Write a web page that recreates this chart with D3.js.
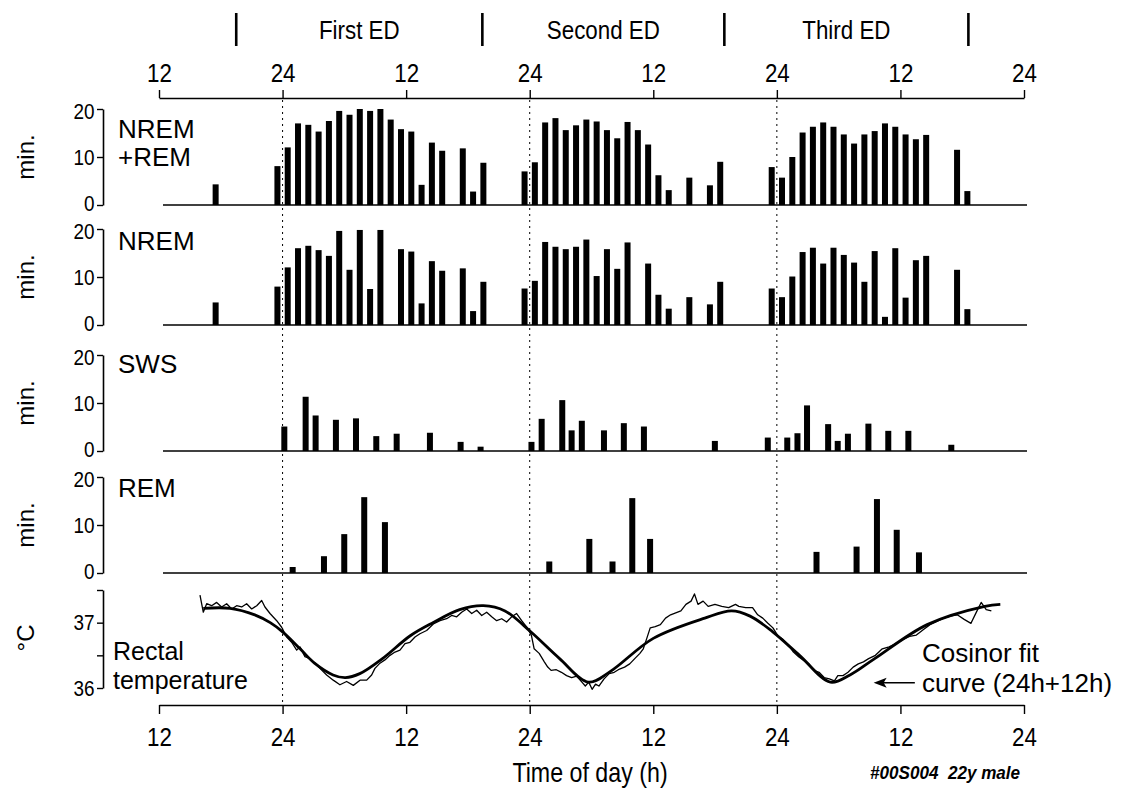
<!DOCTYPE html>
<html><head><meta charset="utf-8">
<script src="https://cdn.jsdelivr.net/npm/d3@7"></script>
<style>
body{margin:0;background:#fff;}
svg text{font-family:"Liberation Sans",Arial,sans-serif;fill:#000;}
</style></head><body>
<svg id="c" width="1139" height="790"></svg>
<script>
// ---------- DATA ----------
const axisHours = [0,12,24,36,48,60,72,84];           // hours since 12:00 of day 0
const axisLabels = ["12","24","12","24","12","24","12","24"];
const edNames = ["First ED","Second ED","Third ED"];
const edMarkers = [7.5,31.4,54.9,78.6];               // hours

const nremRemHours = [5,11,12,13,14,15,16,17,18,19,20,21,22,23,24,25,26,27,29,30,31,35,36,37,38,39,40,41,42,43,44,45,46,47,48,49,51,53,54,59,60,61,62,63,64,65,66,67,68,69,70,71,72,73,74,77,78];
const nremRemMin = [4.3,8.1,12.0,17.0,16.7,15.3,17.5,19.6,18.8,20.0,19.6,20.0,17.8,15.8,15.3,4.2,13.0,11.3,11.8,2.8,8.8,7.0,8.9,17.2,18.1,15.6,16.6,17.8,17.4,15.6,13.9,17.3,15.6,12.6,6.2,3.1,5.7,4.1,9.0,7.9,5.7,10.0,15.1,16.3,17.2,16.3,14.7,12.8,14.7,15.4,17.0,16.3,14.7,13.7,14.6,11.5,2.9];

const nremHours = [5,11,12,13,14,15,16,17,18,19,20,21,23,24,25,26,27,29,30,31,35,36,37,38,39,40,41,42,43,44,45,47,48,49,51,53,54,59,60,61,62,63,64,65,66,67,68,69,70,71,72,73,74,77,78];
const nremMin = [4.7,8.0,12.0,16.0,16.5,15.6,14.4,19.6,11.5,19.8,7.5,19.8,15.8,15.3,4.5,13.3,11.3,11.8,2.9,9.0,7.6,9.2,17.3,16.3,15.8,16.3,17.8,10.2,15.8,11.7,17.2,12.8,6.3,3.4,5.8,4.3,9.0,7.6,5.8,10.1,15.2,16.1,12.8,16.1,14.6,13.0,9.0,15.4,1.7,16.0,5.7,13.5,14.4,11.5,3.3];

const swsTimes = [12.17,14.24,15.21,17.18,19.13,21.10,23.08,26.31,29.29,31.23,36.17,37.16,39.16,40.07,41.06,43.21,45.14,47.09,53.98,59.12,61.01,62.0,62.93,64.98,65.91,66.9,68.89,70.82,72.77,76.94];
const swsMin = [5.1,11.3,7.4,6.5,6.8,3.1,3.6,3.8,1.9,0.9,1.9,6.7,10.6,4.3,6.3,4.3,5.8,5.1,2.1,2.8,2.8,3.7,9.5,5.6,2.1,3.6,5.7,4.2,4.2,1.3];

const remTimes = [12.98,16.02,17.99,19.93,21.94,37.9,41.79,44.04,45.96,47.69,63.85,67.74,69.72,71.64,73.8];
const remMin = [1.25,3.5,8.1,15.8,10.6,2.4,7.1,2.4,15.6,7.1,4.4,5.5,15.4,9.0,4.3];

const tempTimes = [3.98,4.30,4.63,5.11,5.60,6.08,6.57,7.06,7.54,8.03,8.51,9.00,9.49,9.97,10.29,10.78,11.43,11.91,12.40,12.88,13.37,13.69,14.17,14.66,15.15,15.63,16.28,16.92,17.57,18.22,18.87,19.52,20.17,20.65,20.97,21.46,21.94,22.43,22.92,23.40,23.89,24.37,24.86,25.34,25.99,26.64,27.29,27.93,28.42,28.91,29.39,29.88,30.37,30.85,31.34,31.82,32.31,32.79,33.28,33.76,34.25,34.73,35.22,35.71,
  36.16,36.43,36.92,37.42,37.75,38.08,38.58,39.08,39.58,40.07,40.57,41.07,41.40,41.73,42.06,42.39,42.72,43.22,43.72,44.21,44.72,45.21,45.71,46.2,46.70,47.03,47.37,47.70,48.19,48.69,49.19,49.68,50.18,50.68,51.17,51.67,52.0,52.34,52.84,53.33,53.99,54.65,55.32,55.98,56.31,56.97,57.64,58.14,58.63,59.13,59.62,60.13,60.62,61.12,61.61,62.11,62.61,63.11,63.60,64.10,64.59,65.10,65.59,65.92,66.42,66.91,67.41,67.91,68.41,68.91,69.57,70.24,70.90,71.56,72.22,72.89,73.55,74.21,74.87,75.54,76.20,76.86,77.52,78.19,78.85,79.34,79.84,80.33,80.83];
const tempC = [37.42,37.16,37.29,37.26,37.31,37.24,37.29,37.21,37.26,37.24,37.29,37.21,37.26,37.34,37.24,37.14,37.03,36.93,36.78,36.70,36.58,36.63,36.48,36.45,36.38,36.30,36.20,36.12,36.05,36.10,36.04,36.12,36.12,36.20,36.30,36.38,36.43,36.50,36.55,36.58,36.68,36.70,36.78,36.83,36.88,36.98,37.03,37.06,37.11,37.09,37.16,37.21,37.14,37.19,37.11,37.16,37.09,37.03,37.06,37.01,37.09,37.14,37.03,36.93,
  36.81,36.60,36.53,36.40,36.32,36.27,36.28,36.24,36.19,36.16,36.18,36.09,36.03,36.09,35.98,36.06,36.03,36.14,36.22,36.24,36.29,36.32,36.37,36.45,36.53,36.60,36.76,36.92,36.94,36.97,37.07,37.12,37.15,37.18,37.28,37.33,37.44,37.28,37.33,37.25,37.28,37.25,37.23,37.28,37.25,37.23,37.23,37.12,37.07,36.99,36.92,36.79,36.74,36.66,36.55,36.48,36.42,36.37,36.27,36.24,36.16,36.14,36.11,36.19,36.19,36.24,36.32,36.37,36.40,36.45,36.50,36.60,36.63,36.68,36.74,36.79,36.81,36.89,36.97,37.02,37.07,37.10,37.12,37.05,36.99,37.15,37.31,37.20,37.18];

const fitTimes = [4.3,6.9,9.3,10.8,12.0,13.7,15.1,16.9,18.1,19.5,21.7,24.4,26.6,29.2,31.5,33.6,36.1,38.9,41.7,43.8,48.0,53.0,55.6,57.4,59.6,62.2,65.2,67.1,69.5,74.6,80.2,81.7];
const fitC = [37.22,37.22,37.12,37.0,36.86,36.6,36.38,36.2,36.16,36.22,36.45,36.8,37.0,37.2,37.26,37.18,36.86,36.45,36.09,36.25,36.76,37.07,37.18,37.1,36.86,36.5,36.09,36.2,36.45,36.97,37.25,37.28];

// ---------- LAYOUT ----------
const svg = d3.select('#c');
const x = d3.scaleLinear().domain([0,84]).range([159,1024]);
const SQ = 'scale(0.86,1)';   // condensed look of the numerals

// top axis
const topAx = svg.append('g').attr('transform','translate(0,98)')
  .call(d3.axisTop(x).tickValues(axisHours).tickFormat((d,i)=>axisLabels[i]).tickSize(8).tickSizeOuter(0));
topAx.select('.domain').attr('stroke-width',1.6);
topAx.selectAll('.tick line').attr('stroke-width',1.4);
topAx.selectAll('.tick text').attr('font-size',26).attr('transform',SQ).attr('dy','-0.2em');

// ED markers & names
svg.append('g').selectAll('line').data(edMarkers).join('line')
  .attr('x1',d=>x(d)).attr('x2',d=>x(d)).attr('y1',13).attr('y2',46)
  .attr('stroke','#000').attr('stroke-width',2.6);
svg.append('g').selectAll('text').data(edNames).join('text')
  .attr('transform',(d,i)=>`translate(${(x(edMarkers[i])+x(edMarkers[i+1]))/2},39) ${SQ}`)
  .attr('text-anchor','middle').attr('font-size',26).text(d=>d);

// bottom axis
const botAx = svg.append('g').attr('transform','translate(0,705)')
  .call(d3.axisBottom(x).tickValues(axisHours).tickFormat((d,i)=>axisLabels[i]).tickSize(9).tickSizeOuter(0));
botAx.select('.domain').attr('stroke-width',1.6);
botAx.selectAll('.tick line').attr('stroke-width',1.4);
botAx.selectAll('.tick text').attr('font-size',26).attr('transform',SQ).attr('dy','1.1em');
svg.append('text').attr('transform',`translate(590,782) ${SQ}`).attr('text-anchor','middle')
  .attr('font-size',27).text('Time of day (h)');
svg.append('text').attr('transform','translate(870,779) scale(0.9,1)').attr('font-size',19)
  .attr('font-style','italic').attr('font-weight','bold').style('white-space','pre').text('#00S004  22y male');

// dashed midnight lines
svg.append('g').selectAll('line').data([12,36,60]).join('line')
  .attr('x1',d=>x(d)).attr('x2',d=>x(d)).attr('y1',100).attr('y2',704)
  .attr('stroke','#000').attr('stroke-width',1).attr('stroke-dasharray','2,4');

// bar panels
const panels = [
  {y0:205, y20:109, hours:nremRemHours, vals:nremRemMin, off:0.5, label:['NREM','+REM'], ly:[138,166]},
  {y0:325, y20:229, hours:nremHours, vals:nremMin, off:0.5, label:['NREM'], ly:[250]},
  {y0:451, y20:355, hours:swsTimes, vals:swsMin, off:0, label:['SWS'], ly:[373]},
  {y0:573, y20:477, hours:remTimes, vals:remMin, off:0, label:['REM'], ly:[497]}
];
panels.forEach(p=>{
  const y = d3.scaleLinear().domain([0,20]).range([p.y0,p.y20]);
  const ax = svg.append('g').attr('transform','translate(103,0)')
    .call(d3.axisLeft(y).tickValues([0,10,20]).tickSize(6).tickSizeOuter(0));
  ax.select('.domain').attr('stroke-width',1.6);
  ax.selectAll('.tick line').attr('stroke-width',1.4);
  ax.selectAll('.tick text').attr('font-size',22).attr('x',-10).attr('transform',SQ)
    .attr('y',d=>d===0?-2:(d===20?2:0));
  svg.append('text').attr('transform',`translate(34,${(p.y0+p.y20)/2}) rotate(-90)`)
    .attr('text-anchor','middle').attr('font-size',24).text('min.');
  p.label.forEach((t,i)=>svg.append('text').attr('x',118).attr('y',p.ly[i])
    .attr('font-size',26).text(t));
  svg.append('line').attr('x1',163).attr('x2',1027).attr('y1',p.y0).attr('y2',p.y0)
    .attr('stroke','#000').attr('stroke-width',1.6);
  const data = p.hours.map((h,i)=>({t:h+p.off, v:p.vals[i]}));
  svg.append('g').selectAll('rect').data(data).join('rect')
    .attr('x',d=>x(d.t)-3).attr('width',6)
    .attr('y',d=>y(d.v)).attr('height',d=>p.y0-y(d.v)).attr('fill','#000');
});

// temperature panel
const yT = d3.scaleLinear().domain([36,37.5]).range([688,590]);
const tAx = svg.append('g').attr('transform','translate(103,0)')
  .call(d3.axisLeft(yT).tickValues([36,36.5,37,37.5]).tickFormat(d=>(d===36||d===37)?String(d):'').tickSize(6).tickSizeOuter(0));
tAx.select('.domain').attr('stroke-width',1.6);
tAx.selectAll('.tick line').attr('stroke-width',1.4);
tAx.selectAll('.tick text').attr('font-size',22).attr('x',-10).attr('transform',SQ);
svg.append('text').attr('transform','translate(34,638) rotate(-90)')
  .attr('text-anchor','middle').attr('font-size',24).text('°C');
svg.append('text').attr('x',113).attr('y',660).attr('font-size',25).text('Rectal');
svg.append('text').attr('x',113).attr('y',689).attr('font-size',25).text('temperature');

const raw = tempTimes.map((t,i)=>({t, v:tempC[i]}));
const fit = fitTimes.map((t,i)=>({t, v:fitC[i]}));
svg.append('path').datum(raw).attr('fill','none').attr('stroke','#000').attr('stroke-width',1.3)
  .attr('stroke-linejoin','round').attr('d',d3.line().x(d=>x(d.t)).y(d=>yT(d.v)));
svg.append('path').datum(fit).attr('fill','none').attr('stroke','#000').attr('stroke-width',2.8)
  .attr('d',d3.line().curve(d3.curveCatmullRom).x(d=>x(d.t)).y(d=>yT(d.v)));

// cosinor annotation
const ay = yT(36.08);
svg.append('line').attr('x1',x(73.4)).attr('x2',x(69.9)).attr('y1',ay).attr('y2',ay)
  .attr('stroke','#000').attr('stroke-width',1.5);
svg.append('path').attr('d',`M${x(69.4)},${ay} l13,-5 l-3,5 l3,5 z`).attr('fill','#000');
svg.append('text').attr('x',922).attr('y',662).attr('font-size',26).text('Cosinor fit');
svg.append('text').attr('x',922).attr('y',692).attr('font-size',26).text('curve (24h+12h)');
</script></body></html>
